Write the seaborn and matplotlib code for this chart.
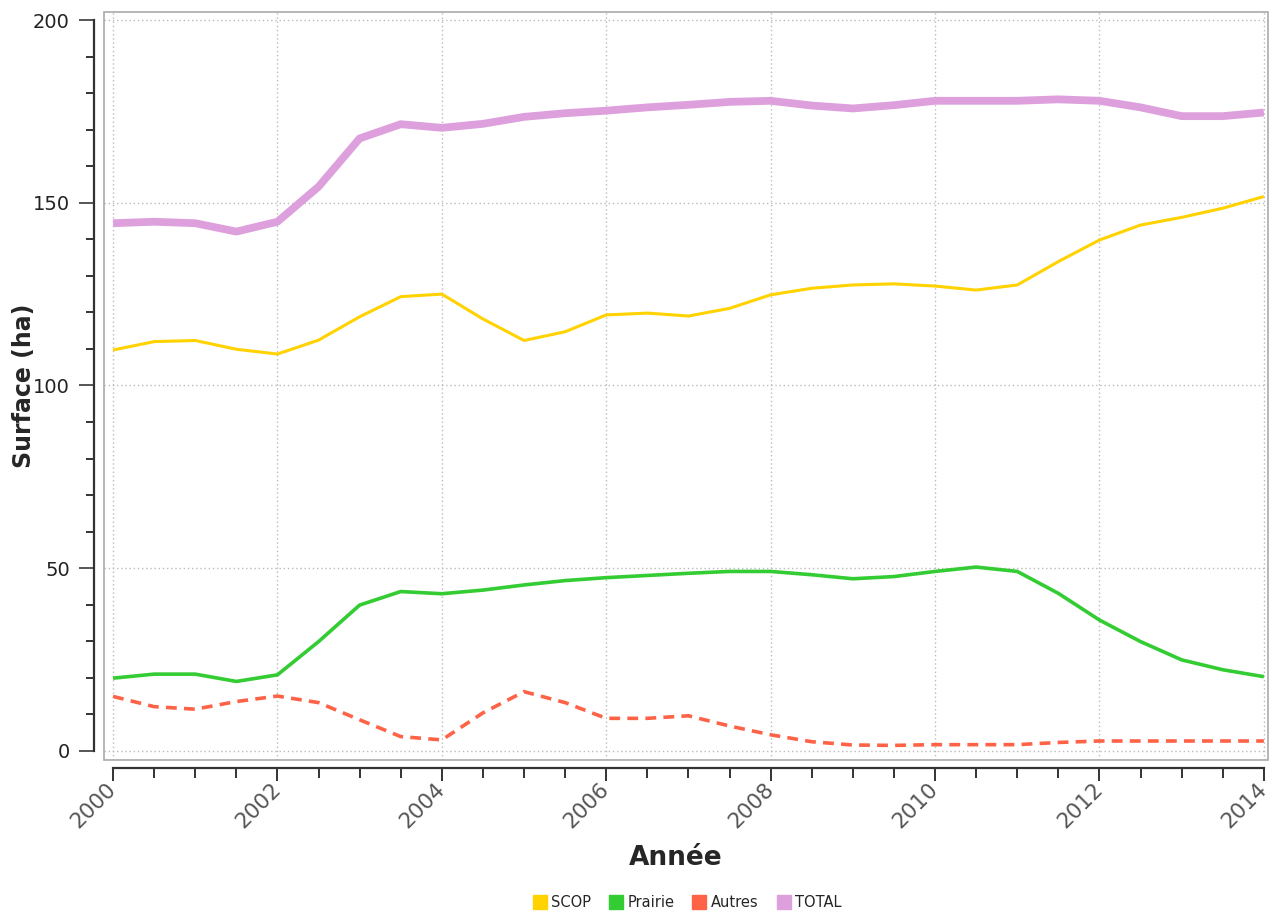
import numpy as np
import pandas as pd
import matplotlib
matplotlib.use("Agg")
import matplotlib.pyplot as plt
from matplotlib.lines import Line2D
from matplotlib.patches import Rectangle
from matplotlib.ticker import MultipleLocator
import seaborn as sns

# Valeurs (pas d'une demi-année)
annees = [2000, 2000.5, 2001, 2001.5, 2002, 2002.5, 2003, 2003.5, 2004, 2004.5,
          2005, 2005.5, 2006, 2006.5, 2007, 2007.5, 2008, 2008.5, 2009, 2009.5,
          2010, 2010.5, 2011, 2011.5, 2012, 2012.5, 2013, 2013.5, 2014]

scop = [109.7, 112.0, 112.3, 109.9, 108.6, 112.4, 118.8, 124.3, 125.0, 118.2,
        112.3, 114.7, 119.3, 119.8, 119.0, 121.1, 124.8, 126.6, 127.5, 127.8,
        127.2, 126.1, 127.5, 133.9, 139.8, 143.9, 146.0, 148.5, 151.7]

prairie = [19.9, 21.0, 21.0, 19.0, 20.8, 29.9, 39.9, 43.6, 43.0, 44.0,
           45.4, 46.6, 47.4, 48.0, 48.6, 49.1, 49.1, 48.2, 47.1, 47.7,
           49.1, 50.3, 49.1, 43.1, 35.8, 29.9, 24.9, 22.2, 20.3]

autres = [14.9, 12.1, 11.4, 13.5, 15.0, 13.2, 8.5, 3.9, 3.0, 10.4,
          16.2, 13.2, 8.9, 8.9, 9.6, 6.8, 4.4, 2.5, 1.6, 1.5,
          1.7, 1.7, 1.7, 2.3, 2.7, 2.7, 2.7, 2.7, 2.7]

total = [144.4, 144.8, 144.4, 142.1, 144.8, 154.4, 167.6, 171.5, 170.5, 171.6,
         173.5, 174.5, 175.2, 176.1, 176.8, 177.6, 177.9, 176.6, 175.8, 176.7,
         177.9, 177.9, 177.9, 178.3, 177.9, 176.1, 173.7, 173.7, 174.7]

series = ["SCOP", "Prairie", "Autres", "TOTAL"]
couleurs = {"SCOP": "#FFD200", "Prairie": "#33CC33", "Autres": "#FF6347", "TOTAL": "#DDA0DD"}

df = pd.DataFrame({"annee": annees, "SCOP": scop, "Prairie": prairie,
                   "Autres": autres, "TOTAL": total})
df_long = df.melt(id_vars="annee", var_name="culture", value_name="surface")

sns.set_style("white")
plt.rcParams["font.family"] = ["DejaVu Sans"]

fig = plt.figure(figsize=(12.75, 9.11), dpi=100)
ax = fig.add_axes([104 / 1275, 1 - 760 / 911, (1268 - 104) / 1275, (760 - 12) / 911])

styles = {
    "SCOP": dict(linewidth=2.2, linestyle="-"),
    "Prairie": dict(linewidth=2.6, linestyle="-"),
    "Autres": dict(linewidth=2.6, linestyle=(0, (3, 2))),
    "TOTAL": dict(linewidth=5.6, linestyle="-"),
}
for nom in ["Autres", "Prairie", "SCOP", "TOTAL"]:
    sub = df_long[df_long["culture"] == nom]
    sns.lineplot(data=sub, x="annee", y="surface", ax=ax, color=couleurs[nom],
                 legend=False, solid_joinstyle="round", solid_capstyle="butt",
                 dash_joinstyle="round", **styles[nom])

ax.set_xlim(1999.89, 2014.05)
ax.set_ylim(-2.5, 202.2)

# grille pointillée
ax.xaxis.set_major_locator(MultipleLocator(2))
ax.xaxis.set_minor_locator(MultipleLocator(0.5))
ax.yaxis.set_major_locator(MultipleLocator(50))
ax.yaxis.set_minor_locator(MultipleLocator(10))
ax.grid(True, which="major", color="#BBBBBB", linestyle=(0, (1, 2)), linewidth=1)

# axes décalés comme sur l'original
for s in ["top", "right"]:
    ax.spines[s].set_visible(False)
ax.spines["left"].set_position(("outward", 7))
ax.spines["bottom"].set_position(("outward", 6))
ax.spines["left"].set_bounds(0, 200)
ax.spines["bottom"].set_bounds(2000, 2014)
for s in ["left", "bottom"]:
    ax.spines[s].set_color("#333333")
    ax.spines[s].set_linewidth(1.6)
ax.add_patch(Rectangle((0, 0), 1, 1, transform=ax.transAxes, fill=False,
                       edgecolor="#AAAAAA", linewidth=1.2, clip_on=False))

ax.tick_params(axis="y", which="major", length=11, width=1.4, color="#555555",
               labelsize=14, labelcolor="#222222", left=True, direction="out", pad=6.5)
ax.tick_params(axis="y", which="minor", length=5.5, width=1.4, color="#333333", left=True)
ax.tick_params(axis="x", which="major", length=9.5, width=1.4, color="#333333",
               labelsize=15.5, labelcolor="#555555", bottom=True, direction="out")
ax.tick_params(axis="x", which="minor", length=7, width=1.4, color="#333333", bottom=True)

ax.set_xticks(range(2000, 2015, 2))
ax.set_xticklabels([str(a) for a in range(2000, 2015, 2)])
for lab in ax.get_xticklabels():
    lab.set_rotation(45)
    lab.set_ha("right")
    lab.set_va("center")
    lab.set_rotation_mode("anchor")

ax.set_xlabel("Année", fontsize=19, fontweight="bold")
ax.xaxis.set_label_coords((676 - 104) / 1164, (760 - 845) / 748)
ax.set_ylabel("Surface (ha)", fontsize=17, fontweight="bold")
ax.yaxis.set_label_coords((36 - 104) / 1164, 0.5)

handles = [Line2D([], [], marker="s", linestyle="none", markersize=10,
                  markerfacecolor=couleurs[n], markeredgecolor=couleurs[n]) for n in series]
fig.legend(handles, series, loc="lower center", bbox_to_anchor=(687 / 1275, -0.013),
           ncol=4, frameon=False, fontsize=10.5, handletextpad=0.3,
           columnspacing=1.2, handlelength=1.0)

fig.savefig("out.png", dpi=100)
